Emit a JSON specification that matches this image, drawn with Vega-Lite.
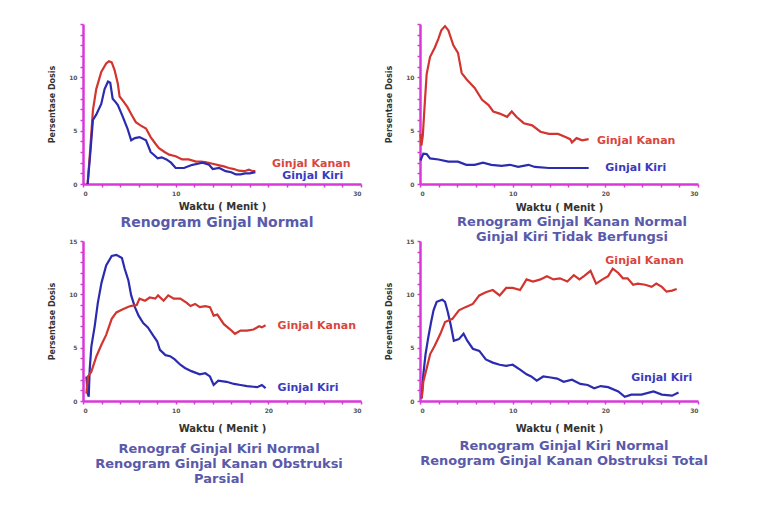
{
  "$schema": "https://vega.github.io/schema/vega-lite/v6.json",
  "padding": {"left": 48, "top": 21, "right": 5, "bottom": 5},
  "background": "white",
  "datasets": {
    "curves": [
      {"p":1,"s":"Kanan","t":0.5,"v":0},{"p":1,"s":"Kanan","t":0.8,"v":3.5},{"p":1,"s":"Kanan","t":1.07,"v":6.9},{"p":1,"s":"Kanan","t":1.43,"v":8.9},{"p":1,"s":"Kanan","t":1.97,"v":10.5},{"p":1,"s":"Kanan","t":2.5,"v":11.3},{"p":1,"s":"Kanan","t":2.8,"v":11.5},{"p":1,"s":"Kanan","t":3.1,"v":11.4},{"p":1,"s":"Kanan","t":3.4,"v":10.7},{"p":1,"s":"Kanan","t":3.76,"v":9.4},{"p":1,"s":"Kanan","t":3.95,"v":8.2},{"p":1,"s":"Kanan","t":4.4,"v":7.7},{"p":1,"s":"Kanan","t":4.8,"v":7.2},{"p":1,"s":"Kanan","t":5.3,"v":6.4},{"p":1,"s":"Kanan","t":5.7,"v":5.8},{"p":1,"s":"Kanan","t":6.2,"v":5.5},{"p":1,"s":"Kanan","t":6.8,"v":5.2},{"p":1,"s":"Kanan","t":7.3,"v":4.4},{"p":1,"s":"Kanan","t":7.8,"v":3.8},{"p":1,"s":"Kanan","t":8.2,"v":3.35},{"p":1,"s":"Kanan","t":8.8,"v":3.0},{"p":1,"s":"Kanan","t":9.3,"v":2.75},{"p":1,"s":"Kanan","t":10.0,"v":2.6},{"p":1,"s":"Kanan","t":10.7,"v":2.3},{"p":1,"s":"Kanan","t":11.4,"v":2.3},{"p":1,"s":"Kanan","t":12.2,"v":2.1},{"p":1,"s":"Kanan","t":12.7,"v":2.1},{"p":1,"s":"Kanan","t":13.2,"v":2.05},{"p":1,"s":"Kanan","t":14.0,"v":1.9},{"p":1,"s":"Kanan","t":14.7,"v":1.75},{"p":1,"s":"Kanan","t":15.2,"v":1.65},{"p":1,"s":"Kanan","t":15.75,"v":1.5},{"p":1,"s":"Kanan","t":16.3,"v":1.4},{"p":1,"s":"Kanan","t":16.8,"v":1.25},{"p":1,"s":"Kanan","t":17.4,"v":1.2},{"p":1,"s":"Kanan","t":17.9,"v":1.35},{"p":1,"s":"Kanan","t":18.3,"v":1.2},{"p":1,"s":"Kanan","t":18.6,"v":1.2},
      {"p":1,"s":"Kiri","t":0.5,"v":0},{"p":1,"s":"Kiri","t":0.8,"v":3.0},{"p":1,"s":"Kiri","t":1.07,"v":6.0},{"p":1,"s":"Kiri","t":1.43,"v":6.5},{"p":1,"s":"Kiri","t":1.7,"v":7.0},{"p":1,"s":"Kiri","t":1.97,"v":7.5},{"p":1,"s":"Kiri","t":2.33,"v":8.9},{"p":1,"s":"Kiri","t":2.7,"v":9.6},{"p":1,"s":"Kiri","t":2.94,"v":9.5},{"p":1,"s":"Kiri","t":3.2,"v":8.0},{"p":1,"s":"Kiri","t":3.5,"v":7.7},{"p":1,"s":"Kiri","t":3.76,"v":7.4},{"p":1,"s":"Kiri","t":4.3,"v":6.3},{"p":1,"s":"Kiri","t":4.8,"v":5.2},{"p":1,"s":"Kiri","t":5.2,"v":4.1},{"p":1,"s":"Kiri","t":5.6,"v":4.3},{"p":1,"s":"Kiri","t":6.1,"v":4.4},{"p":1,"s":"Kiri","t":6.8,"v":4.1},{"p":1,"s":"Kiri","t":7.3,"v":3.0},{"p":1,"s":"Kiri","t":7.7,"v":2.7},{"p":1,"s":"Kiri","t":8.05,"v":2.4},{"p":1,"s":"Kiri","t":8.5,"v":2.5},{"p":1,"s":"Kiri","t":9.0,"v":2.3},{"p":1,"s":"Kiri","t":9.5,"v":2.0},{"p":1,"s":"Kiri","t":10.0,"v":1.5},{"p":1,"s":"Kiri","t":10.9,"v":1.5},{"p":1,"s":"Kiri","t":11.8,"v":1.8},{"p":1,"s":"Kiri","t":12.4,"v":1.9},{"p":1,"s":"Kiri","t":12.9,"v":2.0},{"p":1,"s":"Kiri","t":13.6,"v":1.8},{"p":1,"s":"Kiri","t":14.0,"v":1.4},{"p":1,"s":"Kiri","t":14.7,"v":1.5},{"p":1,"s":"Kiri","t":15.4,"v":1.2},{"p":1,"s":"Kiri","t":16.0,"v":1.1},{"p":1,"s":"Kiri","t":16.5,"v":0.9},{"p":1,"s":"Kiri","t":17.0,"v":0.9},{"p":1,"s":"Kiri","t":17.5,"v":1.0},{"p":1,"s":"Kiri","t":18.0,"v":1.0},{"p":1,"s":"Kiri","t":18.6,"v":1.1},
      {"p":2,"s":"Kanan","t":0.05,"v":4.7},{"p":2,"s":"Kanan","t":0.15,"v":3.6},{"p":2,"s":"Kanan","t":0.3,"v":4.5},{"p":2,"s":"Kanan","t":0.54,"v":7.9},{"p":2,"s":"Kanan","t":0.72,"v":10.3},{"p":2,"s":"Kanan","t":1.08,"v":11.9},{"p":2,"s":"Kanan","t":1.6,"v":12.8},{"p":2,"s":"Kanan","t":1.98,"v":13.6},{"p":2,"s":"Kanan","t":2.3,"v":14.4},{"p":2,"s":"Kanan","t":2.7,"v":14.8},{"p":2,"s":"Kanan","t":3.06,"v":14.4},{"p":2,"s":"Kanan","t":3.6,"v":13.0},{"p":2,"s":"Kanan","t":4.1,"v":12.3},{"p":2,"s":"Kanan","t":4.5,"v":10.4},{"p":2,"s":"Kanan","t":5.04,"v":9.8},{"p":2,"s":"Kanan","t":5.9,"v":9.0},{"p":2,"s":"Kanan","t":6.7,"v":7.9},{"p":2,"s":"Kanan","t":7.4,"v":7.4},{"p":2,"s":"Kanan","t":7.9,"v":6.8},{"p":2,"s":"Kanan","t":8.6,"v":6.6},{"p":2,"s":"Kanan","t":9.4,"v":6.3},{"p":2,"s":"Kanan","t":9.9,"v":6.8},{"p":2,"s":"Kanan","t":10.4,"v":6.3},{"p":2,"s":"Kanan","t":11.2,"v":5.7},{"p":2,"s":"Kanan","t":12.1,"v":5.5},{"p":2,"s":"Kanan","t":13.0,"v":4.9},{"p":2,"s":"Kanan","t":13.9,"v":4.7},{"p":2,"s":"Kanan","t":14.9,"v":4.7},{"p":2,"s":"Kanan","t":15.7,"v":4.4},{"p":2,"s":"Kanan","t":16.2,"v":4.2},{"p":2,"s":"Kanan","t":16.4,"v":3.9},{"p":2,"s":"Kanan","t":16.9,"v":4.3},{"p":2,"s":"Kanan","t":17.5,"v":4.1},{"p":2,"s":"Kanan","t":18.2,"v":4.2},
      {"p":2,"s":"Kiri","t":0.05,"v":2.2},{"p":2,"s":"Kiri","t":0.36,"v":2.85},{"p":2,"s":"Kiri","t":0.72,"v":2.8},{"p":2,"s":"Kiri","t":1.08,"v":2.4},{"p":2,"s":"Kiri","t":2.0,"v":2.3},{"p":2,"s":"Kiri","t":3.06,"v":2.1},{"p":2,"s":"Kiri","t":4.1,"v":2.1},{"p":2,"s":"Kiri","t":5.0,"v":1.8},{"p":2,"s":"Kiri","t":5.9,"v":1.8},{"p":2,"s":"Kiri","t":6.8,"v":2.0},{"p":2,"s":"Kiri","t":7.7,"v":1.8},{"p":2,"s":"Kiri","t":8.8,"v":1.7},{"p":2,"s":"Kiri","t":9.7,"v":1.8},{"p":2,"s":"Kiri","t":10.6,"v":1.6},{"p":2,"s":"Kiri","t":11.7,"v":1.8},{"p":2,"s":"Kiri","t":12.4,"v":1.6},{"p":2,"s":"Kiri","t":13.9,"v":1.5},{"p":2,"s":"Kiri","t":15.7,"v":1.5},{"p":2,"s":"Kiri","t":18.2,"v":1.5},
      {"p":3,"s":"Kiri","t":0.36,"v":2.3},{"p":3,"s":"Kiri","t":0.5,"v":0.7},{"p":3,"s":"Kiri","t":0.62,"v":0.4},{"p":3,"s":"Kiri","t":0.72,"v":2.9},{"p":3,"s":"Kiri","t":0.9,"v":5.1},{"p":3,"s":"Kiri","t":1.26,"v":7.0},{"p":3,"s":"Kiri","t":1.6,"v":9.2},{"p":3,"s":"Kiri","t":2.0,"v":11.1},{"p":3,"s":"Kiri","t":2.5,"v":12.7},{"p":3,"s":"Kiri","t":3.1,"v":13.6},{"p":3,"s":"Kiri","t":3.6,"v":13.7},{"p":3,"s":"Kiri","t":4.2,"v":13.4},{"p":3,"s":"Kiri","t":4.5,"v":12.4},{"p":3,"s":"Kiri","t":4.9,"v":11.3},{"p":3,"s":"Kiri","t":5.2,"v":9.9},{"p":3,"s":"Kiri","t":5.6,"v":8.8},{"p":3,"s":"Kiri","t":6.0,"v":8.0},{"p":3,"s":"Kiri","t":6.5,"v":7.3},{"p":3,"s":"Kiri","t":7.0,"v":6.9},{"p":3,"s":"Kiri","t":7.6,"v":6.1},{"p":3,"s":"Kiri","t":8.0,"v":5.6},{"p":3,"s":"Kiri","t":8.3,"v":4.8},{"p":3,"s":"Kiri","t":8.9,"v":4.3},{"p":3,"s":"Kiri","t":9.4,"v":4.2},{"p":3,"s":"Kiri","t":9.9,"v":3.9},{"p":3,"s":"Kiri","t":10.5,"v":3.4},{"p":3,"s":"Kiri","t":11.0,"v":3.1},{"p":3,"s":"Kiri","t":11.7,"v":2.8},{"p":3,"s":"Kiri","t":12.6,"v":2.5},{"p":3,"s":"Kiri","t":13.2,"v":2.6},{"p":3,"s":"Kiri","t":13.7,"v":2.3},{"p":3,"s":"Kiri","t":14.1,"v":1.5},{"p":3,"s":"Kiri","t":14.6,"v":1.9},{"p":3,"s":"Kiri","t":15.5,"v":1.8},{"p":3,"s":"Kiri","t":16.3,"v":1.6},{"p":3,"s":"Kiri","t":17.0,"v":1.5},{"p":3,"s":"Kiri","t":17.7,"v":1.4},{"p":3,"s":"Kiri","t":18.8,"v":1.3},{"p":3,"s":"Kiri","t":19.3,"v":1.5},{"p":3,"s":"Kiri","t":19.7,"v":1.2},
      {"p":3,"s":"Kanan","t":0.36,"v":0.7},{"p":3,"s":"Kanan","t":0.54,"v":2.3},{"p":3,"s":"Kanan","t":0.9,"v":2.75},{"p":3,"s":"Kanan","t":1.45,"v":4.2},{"p":3,"s":"Kanan","t":2.0,"v":5.3},{"p":3,"s":"Kanan","t":2.5,"v":6.2},{"p":3,"s":"Kanan","t":3.1,"v":7.7},{"p":3,"s":"Kanan","t":3.6,"v":8.3},{"p":3,"s":"Kanan","t":4.3,"v":8.6},{"p":3,"s":"Kanan","t":5.1,"v":8.9},{"p":3,"s":"Kanan","t":5.8,"v":9.0},{"p":3,"s":"Kanan","t":6.1,"v":9.6},{"p":3,"s":"Kanan","t":6.7,"v":9.4},{"p":3,"s":"Kanan","t":7.2,"v":9.7},{"p":3,"s":"Kanan","t":7.8,"v":9.6},{"p":3,"s":"Kanan","t":8.1,"v":9.9},{"p":3,"s":"Kanan","t":8.7,"v":9.4},{"p":3,"s":"Kanan","t":9.2,"v":9.9},{"p":3,"s":"Kanan","t":9.8,"v":9.6},{"p":3,"s":"Kanan","t":10.5,"v":9.6},{"p":3,"s":"Kanan","t":11.2,"v":9.2},{"p":3,"s":"Kanan","t":11.6,"v":8.9},{"p":3,"s":"Kanan","t":12.1,"v":9.1},{"p":3,"s":"Kanan","t":12.6,"v":8.8},{"p":3,"s":"Kanan","t":13.2,"v":8.9},{"p":3,"s":"Kanan","t":13.7,"v":8.8},{"p":3,"s":"Kanan","t":14.1,"v":8.0},{"p":3,"s":"Kanan","t":14.5,"v":8.1},{"p":3,"s":"Kanan","t":15.2,"v":7.2},{"p":3,"s":"Kanan","t":15.9,"v":6.7},{"p":3,"s":"Kanan","t":16.4,"v":6.3},{"p":3,"s":"Kanan","t":17.0,"v":6.6},{"p":3,"s":"Kanan","t":17.7,"v":6.6},{"p":3,"s":"Kanan","t":18.4,"v":6.7},{"p":3,"s":"Kanan","t":19.0,"v":7.0},{"p":3,"s":"Kanan","t":19.3,"v":6.9},{"p":3,"s":"Kanan","t":19.7,"v":7.1},
      {"p":4,"s":"Kiri","t":0.18,"v":0.25},{"p":4,"s":"Kiri","t":0.36,"v":2.5},{"p":4,"s":"Kiri","t":0.6,"v":4.4},{"p":4,"s":"Kiri","t":0.9,"v":6.0},{"p":4,"s":"Kiri","t":1.2,"v":7.4},{"p":4,"s":"Kiri","t":1.46,"v":8.5},{"p":4,"s":"Kiri","t":1.8,"v":9.3},{"p":4,"s":"Kiri","t":2.4,"v":9.5},{"p":4,"s":"Kiri","t":2.7,"v":9.3},{"p":4,"s":"Kiri","t":3.0,"v":8.35},{"p":4,"s":"Kiri","t":3.3,"v":7.2},{"p":4,"s":"Kiri","t":3.65,"v":5.65},{"p":4,"s":"Kiri","t":4.2,"v":5.8},{"p":4,"s":"Kiri","t":4.7,"v":6.3},{"p":4,"s":"Kiri","t":5.1,"v":5.65},{"p":4,"s":"Kiri","t":5.7,"v":4.9},{"p":4,"s":"Kiri","t":6.4,"v":4.7},{"p":4,"s":"Kiri","t":7.1,"v":3.9},{"p":4,"s":"Kiri","t":7.85,"v":3.6},{"p":4,"s":"Kiri","t":8.6,"v":3.4},{"p":4,"s":"Kiri","t":9.3,"v":3.3},{"p":4,"s":"Kiri","t":10.0,"v":3.4},{"p":4,"s":"Kiri","t":10.8,"v":2.95},{"p":4,"s":"Kiri","t":11.5,"v":2.5},{"p":4,"s":"Kiri","t":12.0,"v":2.3},{"p":4,"s":"Kiri","t":12.6,"v":1.9},{"p":4,"s":"Kiri","t":13.3,"v":2.3},{"p":4,"s":"Kiri","t":14.1,"v":2.2},{"p":4,"s":"Kiri","t":14.8,"v":2.1},{"p":4,"s":"Kiri","t":15.5,"v":1.8},{"p":4,"s":"Kiri","t":16.4,"v":2.0},{"p":4,"s":"Kiri","t":17.3,"v":1.6},{"p":4,"s":"Kiri","t":18.1,"v":1.5},{"p":4,"s":"Kiri","t":18.8,"v":1.2},{"p":4,"s":"Kiri","t":19.5,"v":1.4},{"p":4,"s":"Kiri","t":20.3,"v":1.3},{"p":4,"s":"Kiri","t":21.4,"v":0.9},{"p":4,"s":"Kiri","t":22.1,"v":0.4},{"p":4,"s":"Kiri","t":22.8,"v":0.6},{"p":4,"s":"Kiri","t":23.9,"v":0.6},{"p":4,"s":"Kiri","t":25.2,"v":0.9},{"p":4,"s":"Kiri","t":26.1,"v":0.6},{"p":4,"s":"Kiri","t":27.2,"v":0.5},{"p":4,"s":"Kiri","t":27.9,"v":0.8},
      {"p":4,"s":"Kanan","t":0.18,"v":0.25},{"p":4,"s":"Kanan","t":0.36,"v":1.8},{"p":4,"s":"Kanan","t":0.73,"v":3.1},{"p":4,"s":"Kanan","t":1.1,"v":4.4},{"p":4,"s":"Kanan","t":1.6,"v":5.2},{"p":4,"s":"Kanan","t":2.2,"v":6.3},{"p":4,"s":"Kanan","t":2.7,"v":7.4},{"p":4,"s":"Kanan","t":3.5,"v":7.7},{"p":4,"s":"Kanan","t":4.2,"v":8.5},{"p":4,"s":"Kanan","t":4.9,"v":8.8},{"p":4,"s":"Kanan","t":5.7,"v":9.1},{"p":4,"s":"Kanan","t":6.4,"v":9.9},{"p":4,"s":"Kanan","t":7.1,"v":10.2},{"p":4,"s":"Kanan","t":7.85,"v":10.4},{"p":4,"s":"Kanan","t":8.6,"v":9.9},{"p":4,"s":"Kanan","t":9.3,"v":10.6},{"p":4,"s":"Kanan","t":10.0,"v":10.6},{"p":4,"s":"Kanan","t":10.8,"v":10.4},{"p":4,"s":"Kanan","t":11.5,"v":11.4},{"p":4,"s":"Kanan","t":12.2,"v":11.2},{"p":4,"s":"Kanan","t":13.0,"v":11.4},{"p":4,"s":"Kanan","t":13.7,"v":11.7},{"p":4,"s":"Kanan","t":14.4,"v":11.4},{"p":4,"s":"Kanan","t":15.1,"v":11.5},{"p":4,"s":"Kanan","t":15.9,"v":11.2},{"p":4,"s":"Kanan","t":16.6,"v":11.8},{"p":4,"s":"Kanan","t":17.2,"v":11.4},{"p":4,"s":"Kanan","t":17.7,"v":11.7},{"p":4,"s":"Kanan","t":18.4,"v":12.2},{"p":4,"s":"Kanan","t":19.0,"v":11.0},{"p":4,"s":"Kanan","t":19.7,"v":11.4},{"p":4,"s":"Kanan","t":20.3,"v":11.7},{"p":4,"s":"Kanan","t":20.8,"v":12.4},{"p":4,"s":"Kanan","t":21.4,"v":12.0},{"p":4,"s":"Kanan","t":21.9,"v":11.5},{"p":4,"s":"Kanan","t":22.4,"v":11.5},{"p":4,"s":"Kanan","t":23.0,"v":10.9},{"p":4,"s":"Kanan","t":23.5,"v":11.0},{"p":4,"s":"Kanan","t":24.3,"v":10.9},{"p":4,"s":"Kanan","t":25.0,"v":10.7},{"p":4,"s":"Kanan","t":25.5,"v":11.0},{"p":4,"s":"Kanan","t":26.1,"v":10.7},{"p":4,"s":"Kanan","t":26.6,"v":10.25},{"p":4,"s":"Kanan","t":27.2,"v":10.35},{"p":4,"s":"Kanan","t":27.7,"v":10.5}
    ],
    "labels": [
      {"p":1,"s":"Kanan","t":20.4,"v":1.84,"label":"Ginjal Kanan"},
      {"p":1,"s":"Kiri","t":21.5,"v":0.72,"label":"Ginjal Kiri"},
      {"p":2,"s":"Kanan","t":19.1,"v":4.0,"label":"Ginjal Kanan"},
      {"p":2,"s":"Kiri","t":20.0,"v":1.5,"label":"Ginjal Kiri"},
      {"p":3,"s":"Kanan","t":21.0,"v":7.0,"label":"Ginjal Kanan"},
      {"p":3,"s":"Kiri","t":21.0,"v":1.2,"label":"Ginjal Kiri"},
      {"p":4,"s":"Kanan","t":20.0,"v":13.1,"label":"Ginjal Kanan"},
      {"p":4,"s":"Kiri","t":22.8,"v":2.15,"label":"Ginjal Kiri"}
    ]
  },
  "bounds": "flush",
  "spacing": 217,
  "vconcat": [
    {
      "bounds": "flush",
      "spacing": 59,
      "hconcat": [
        {
          "width": 278, "height": 160,
          "title": {"text": "Renogram Ginjal  Normal", "offset": 5, "dx": -5, "fontSize": 14},
          "layer": [
            {
              "data": {"name": "curves"},
              "transform": [{"filter": "datum.p == 1"}],
              "mark": {"type": "line", "strokeWidth": 2.2},
              "encoding": {
                "x": {"field": "t", "type": "quantitative", "scale": {"domain": [0, 30], "nice": false},
                      "axis": {"title": "Waktu ( Menit )", "tickCount": 15, "labelExpr": "datum.value == 0 || datum.value == 10 || datum.value == 30 ? datum.label : ''", "titlePadding": 5}},
                "y": {"field": "v", "type": "quantitative", "scale": {"domain": [0, 15], "nice": false},
                      "axis": {"title": "Persentase Dosis", "tickCount": 15, "labelExpr": "datum.value % 5 == 0 && datum.value < 15 ? datum.label : ''"}},
                "color": {"field": "s", "type": "nominal", "scale": {"domain": ["Kanan", "Kiri"], "range": ["#d2352f", "#2b2bb0"]}, "legend": null}
              }
            },
            {
              "data": {"name": "labels"},
              "transform": [{"filter": "datum.p == 1"}],
              "mark": {"type": "text", "align": "left", "baseline": "middle", "font": "DejaVu Sans", "fontWeight": "bold", "fontSize": 11},
              "encoding": {
                "x": {"field": "t", "type": "quantitative"},
                "y": {"field": "v", "type": "quantitative"},
                "text": {"field": "label"},
                "color": {"condition": {"test": "datum.s == 'Kanan'", "value": "#d9463e"}, "value": "#3a3ac0"}
              }
            }
          ]
        },
        {
          "width": 278, "height": 160,
          "title": {"text": ["Renogram Ginjal Kanan Normal", "Ginjal Kiri Tidak Berfungsi"], "offset": 4, "dx": 13},
          "layer": [
            {
              "data": {"name": "curves"},
              "transform": [{"filter": "datum.p == 2"}],
              "mark": {"type": "line", "strokeWidth": 2.2},
              "encoding": {
                "x": {"field": "t", "type": "quantitative", "scale": {"domain": [0, 30], "nice": false},
                      "axis": {"title": "Waktu ( Menit )", "tickCount": 15, "labelExpr": "datum.value % 10 == 0 ? datum.label : ''", "titlePadding": 6}},
                "y": {"field": "v", "type": "quantitative", "scale": {"domain": [0, 15], "nice": false},
                      "axis": {"title": "Persentase Dosis", "tickCount": 15, "labelExpr": "datum.value % 5 == 0 && datum.value < 15 ? datum.label : ''"}},
                "color": {"field": "s", "type": "nominal", "scale": {"domain": ["Kanan", "Kiri"], "range": ["#d2352f", "#2b2bb0"]}, "legend": null}
              }
            },
            {
              "data": {"name": "labels"},
              "transform": [{"filter": "datum.p == 2"}],
              "mark": {"type": "text", "align": "left", "baseline": "middle", "font": "DejaVu Sans", "fontWeight": "bold", "fontSize": 11},
              "encoding": {
                "x": {"field": "t", "type": "quantitative"},
                "y": {"field": "v", "type": "quantitative"},
                "text": {"field": "label"},
                "color": {"condition": {"test": "datum.s == 'Kanan'", "value": "#d9463e"}, "value": "#3a3ac0"}
              }
            }
          ]
        }
      ]
    },
    {
      "bounds": "flush",
      "spacing": 59,
      "hconcat": [
        {
          "width": 278, "height": 160,
          "title": {"text": ["Renograf Ginjal Kiri Normal", "Renogram Ginjal Kanan Obstruksi", "Parsial"], "offset": 10, "dx": -3},
          "layer": [
            {
              "data": {"name": "curves"},
              "transform": [{"filter": "datum.p == 3"}],
              "mark": {"type": "line", "strokeWidth": 2.2},
              "encoding": {
                "x": {"field": "t", "type": "quantitative", "scale": {"domain": [0, 30], "nice": false},
                      "axis": {"title": "Waktu ( Menit )", "tickCount": 15, "labelExpr": "datum.value % 10 == 0 ? datum.label : ''", "titlePadding": 10}},
                "y": {"field": "v", "type": "quantitative", "scale": {"domain": [0, 15], "nice": false},
                      "axis": {"title": "Persentase Dosis", "tickCount": 15, "labelExpr": "datum.value % 5 == 0 ? datum.label : ''"}},
                "color": {"field": "s", "type": "nominal", "scale": {"domain": ["Kanan", "Kiri"], "range": ["#d2352f", "#2b2bb0"]}, "legend": null}
              }
            },
            {
              "data": {"name": "labels"},
              "transform": [{"filter": "datum.p == 3"}],
              "mark": {"type": "text", "align": "left", "baseline": "middle", "font": "DejaVu Sans", "fontWeight": "bold", "fontSize": 11},
              "encoding": {
                "x": {"field": "t", "type": "quantitative"},
                "y": {"field": "v", "type": "quantitative"},
                "text": {"field": "label"},
                "color": {"condition": {"test": "datum.s == 'Kanan'", "value": "#d9463e"}, "value": "#3a3ac0"}
              }
            }
          ]
        },
        {
          "width": 278, "height": 160,
          "title": {"text": ["Renogram Ginjal Kiri Normal", "Renogram Ginjal Kanan Obstruksi Total"], "offset": 7, "dx": 5},
          "layer": [
            {
              "data": {"name": "curves"},
              "transform": [{"filter": "datum.p == 4"}],
              "mark": {"type": "line", "strokeWidth": 2.2},
              "encoding": {
                "x": {"field": "t", "type": "quantitative", "scale": {"domain": [0, 30], "nice": false},
                      "axis": {"title": "Waktu ( Menit )", "tickCount": 15, "labelExpr": "datum.value % 10 == 0 ? datum.label : ''", "titlePadding": 10}},
                "y": {"field": "v", "type": "quantitative", "scale": {"domain": [0, 15], "nice": false},
                      "axis": {"title": "Persentase Dosis", "tickCount": 15, "labelExpr": "datum.value % 5 == 0 ? datum.label : ''"}},
                "color": {"field": "s", "type": "nominal", "scale": {"domain": ["Kanan", "Kiri"], "range": ["#d2352f", "#2b2bb0"]}, "legend": null}
              }
            },
            {
              "data": {"name": "labels"},
              "transform": [{"filter": "datum.p == 4"}],
              "mark": {"type": "text", "align": "left", "baseline": "middle", "font": "DejaVu Sans", "fontWeight": "bold", "fontSize": 11},
              "encoding": {
                "x": {"field": "t", "type": "quantitative"},
                "y": {"field": "v", "type": "quantitative"},
                "text": {"field": "label"},
                "color": {"condition": {"test": "datum.s == 'Kanan'", "value": "#d9463e"}, "value": "#3a3ac0"}
              }
            }
          ]
        }
      ]
    }
  ],
  "config": {
    "view": {"stroke": null},
    "axis": {
      "grid": false,
      "domainColor": "#d838d8", "domainWidth": 2.5,
      "tickColor": "#d838d8", "tickWidth": 1.5, "tickSize": 3,
      "labelFont": "DejaVu Sans", "labelFontSize": 6, "labelColor": "#555555", "labelPadding": 3, "labelFontWeight": "bold",
      "titleFont": "DejaVu Sans", "titleFontWeight": "bold", "titleColor": "#333333"
    },
    "axisX": {"titleFontSize": 10},
    "axisY": {"titleFontSize": 8, "titlePadding": 12},
    "title": {"orient": "bottom", "anchor": "middle", "frame": "group", "font": "DejaVu Sans", "fontSize": 13, "fontWeight": "bold", "color": "#5a5aaa", "lineHeight": 15}
  }
}
